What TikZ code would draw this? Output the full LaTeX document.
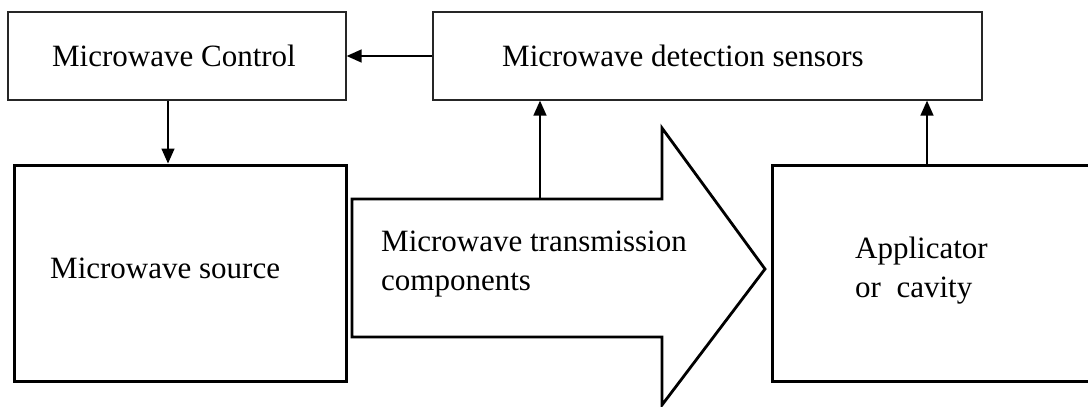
\documentclass[tikz,border=0pt]{standalone}
\usepackage{fontspec}
\setmainfont{Liberation Serif}
\usetikzlibrary{arrows.meta}
\begin{document}
\begin{tikzpicture}[x=1pt,y=-1pt,
  thinbox/.style={draw=black!85,line width=1.3pt,inner sep=0pt,fill=white},
  thickbox/.style={draw=black,line width=3pt,inner sep=0pt,fill=white},
  lbl/.style={inner sep=0pt,font=\fontsize{31}{39}\selectfont,align=left},
  conn/.style={line width=1.5pt,-{Triangle[length=15pt,width=13pt]}}]
\useasboundingbox (0,0) rectangle (1088,407);
\fill[white] (0,0) rectangle (1088,407);
% boxes
\node[thinbox,minimum width=338pt,minimum height=88pt] (ctrl) at (177,56) {};
\node[thinbox,minimum width=549pt,minimum height=88pt] (det) at (707.5,56) {};
\node[thickbox,minimum width=332pt,minimum height=216pt] (src) at (180,273) {};
\node[thickbox,minimum width=330pt,minimum height=216pt] (app) at (937,273) {};
% big arrow
\coordinate (shafttop) at (540,199);
\draw[line width=2.8pt,line join=miter,fill=white] (352,199) -- (662,199) -- (662,128) -- (765,269)
  -- (662,405) -- (662,337) -- (352,337) -- cycle;
% labels
\node[lbl] (ctrlt) at (174,56) {Microwave Control};
\node[lbl,anchor=west] (dett) at (502,56) {Microwave detection sensors};
\node[lbl,anchor=west] (srct) at (50,268) {Microwave source};
\node[lbl,anchor=west] (trt) at (381,264) {Microwave transmission\\components};
\node[lbl,anchor=west] (appt) at (855,271) {Applicator\\or~ cavity};
% connectors
\draw[conn] (det.west) -- (ctrl.east);
\draw[conn] ([xshift=-9pt]ctrl.south) -- ([xshift=-9pt]ctrl.south |- src.north);
\draw[conn] (shafttop) -- (shafttop |- det.south);
\draw[conn] ([xshift=-10pt]app.north) -- ([xshift=-10pt]app.north |- det.south);
\end{tikzpicture}
\end{document}
